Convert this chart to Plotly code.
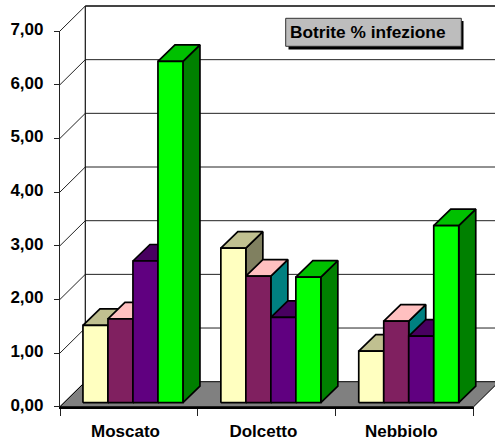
import plotly.graph_objects as go

categories = ["Moscato", "Dolcetto", "Nebbiolo"]
series_a = [1.44, 2.88, 0.96]
series_b = [1.56, 2.36, 1.52]
series_c = [2.64, 1.59, 1.24]
series_d = [6.36, 2.34, 3.30]
y_ticks = [0, 1, 2, 3, 4, 5, 6, 7]
y_labels = ["0,00", "1,00", "2,00", "3,00", "4,00", "5,00", "6,00", "7,00"]
title_text = "Botrite % infezione"

W, H = 495, 445
X0, X3, Y0, Y7 = 60.0, 473.7, 406.7, 31.0
UX = (X3 - X0) / 3
UY = (Y0 - Y7) / 7
WALL_X, WALL_Y = 25.3 / UX, 25.0 / UY
BAR_DX, BAR_DY = 17.0 / UX, 16.5 / UY
LIFT_X, LIFT_Y = 4.0 / UX, 4.0 / UY
BAR_W = 25.0 / UX
GROUP_PAD = (1 - 4 * BAR_W) / 2

styles = [
    ("#FFFFC0", "#C0C090", "#808060"),
    ("#802060", "#FFC0C0", "#008080"),
    ("#600080", "#480060", "#300040"),
    ("#00FF00", "#00C000", "#008000"),
]
series = [series_a, series_b, series_c, series_d]

fig = go.Figure()


def poly(xs, ys, fill, lw=1.7):
    fig.add_trace(go.Scatter(
        x=xs + xs[:1], y=ys + ys[:1], mode="lines", fill="toself", fillcolor=fill,
        line=dict(color="black", width=lw), hoverinfo="skip", showlegend=False,
        xaxis="x", yaxis="y"))


def seg(xs, ys, color="#1a1a1a", lw=1.0):
    fig.add_trace(go.Scatter(
        x=xs, y=ys, mode="lines", line=dict(color=color, width=lw),
        hoverinfo="skip", showlegend=False, xaxis="x", yaxis="y"))


# back wall gridlines and connectors
for v in y_ticks:
    if v > 0:
        seg([WALL_X, 3 + WALL_X], [v + WALL_Y, v + WALL_Y], "#222222" if v < 7 else "#444444", 1.0 if v < 7 else 1.8)
    seg([0, WALL_X], [v, v + WALL_Y], "#222222", 1.0)
seg([WALL_X, WALL_X], [WALL_Y, 7 + WALL_Y], "#111111", 1.2)

# floor
poly([0, WALL_X, 3 + WALL_X, 3], [0, WALL_Y, WALL_Y, 0], "#808080", 1.0)

# bars, drawn left to right so each one hides the side of its neighbour
for c in range(len(categories)):
    for s, vals in enumerate(series):
        v = vals[c]
        front, top, side = styles[s]
        x1 = c + GROUP_PAD + LIFT_X + s * BAR_W
        x2 = x1 + BAR_W
        b = LIFT_Y
        t = LIFT_Y + v
        poly([x2, x2 + BAR_DX, x2 + BAR_DX, x2], [b, b + BAR_DY, t + BAR_DY, t], side)
        poly([x1, x2, x2 + BAR_DX, x1 + BAR_DX], [t, t, t + BAR_DY, t + BAR_DY], top)
        poly([x1, x2, x2, x1], [b, b, t, t], front)

# visible axes subplot needs a trace of its own
fig.add_trace(go.Scatter(x=[0, 3], y=[0, 7], mode="none", hoverinfo="skip",
                         showlegend=False, xaxis="x2", yaxis="y2"))

FONT = dict(family="Liberation Sans, Arial, sans-serif", size=17, color="#000000")
TITLE_FONT = dict(family="Liberation Sans, Arial, sans-serif", size=17.3, color="#000000")

fig.update_layout(
    width=W, height=H, margin=dict(l=0, r=0, t=0, b=0, pad=0, autoexpand=False),
    paper_bgcolor="white", plot_bgcolor="rgba(0,0,0,0)", showlegend=False,
    xaxis=dict(domain=[0, 1], range=[-X0 / UX, (W - X0) / UX], visible=False, fixedrange=True, automargin=False),
    yaxis=dict(domain=[0, 1], range=[-(H - Y0) / UY, Y0 / UY], visible=False, fixedrange=True, automargin=False),
    xaxis2=dict(
        domain=[X0 / W, X3 / W], range=[0, 3], anchor="y2", automargin=False,
        tickmode="array", tickvals=[i + 0.475 for i in range(len(categories))], ticktext=[f"<b>{c}</b>" for c in categories],
        ticks="", ticklen=0, ticklabelstandoff=8, tickfont=FONT,
        showline=True, linecolor="black", linewidth=2.2, showgrid=False, zeroline=False,
        minor=dict(tickmode="array", tickvals=[0, 1, 2, 3], ticks="outside", ticklen=7,
                   tickwidth=1.2, tickcolor="#222222", showgrid=False),
    ),
    yaxis2=dict(
        domain=[(H - Y0) / H, (H - Y7) / H], range=[0, 7], anchor="x2", automargin=False,
        tickmode="array", tickvals=y_ticks, ticktext=[f"<b>{t}</b>" for t in y_labels],
        ticks="outside", ticklen=5, tickwidth=1.2, tickcolor="#222222", ticklabelstandoff=7,
        ticklabelshift=-2, tickfont=FONT, showline=True, linecolor="#222222", linewidth=1.2,
        showgrid=False, zeroline=False,
    ),
    shapes=[
        dict(type="rect", xref="paper", yref="paper", x0=288.5 / W, x1=463.5 / W,
             y0=1 - 49.5 / H, y1=1 - 21 / H, fillcolor="black", line=dict(width=0)),
        dict(type="rect", xref="paper", yref="paper", x0=285.7 / W, x1=461.3 / W,
             y0=1 - 46.3 / H, y1=1 - 18.3 / H, fillcolor="#BDBDBD", line=dict(color="#333333", width=1)),
    ],
    annotations=[
        dict(text=f"<b>{title_text}</b>", xref="paper", yref="paper", x=287.5 / W, y=1 - 32.3 / H,
             xanchor="left", yanchor="middle", showarrow=False, font=TITLE_FONT),
    ],
)

fig.write_html("out.html", config={"displayModeBar": False},
               post_script="document.body.style.margin='0';")
